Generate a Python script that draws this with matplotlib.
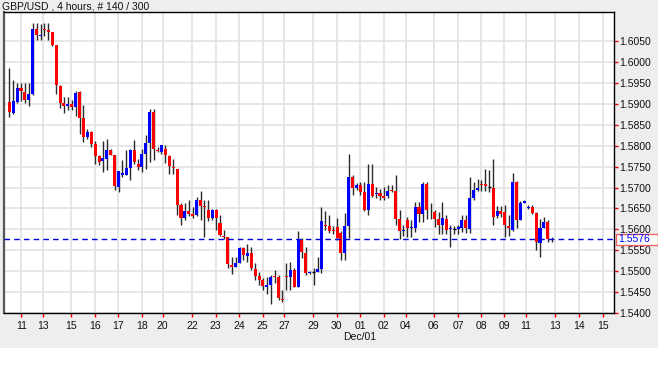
import matplotlib
matplotlib.use("Agg")
import matplotlib.pyplot as plt
from matplotlib.patches import Rectangle
import matplotlib.transforms as mtransforms
import numpy as np

plt.rcParams['font.family'] = ['Liberation Sans', 'DejaVu Sans']

title = "GBP/USD , 4 hours, # 140 / 300"

opens = [1.5905, 1.5879, 1.5905, 1.5938, 1.5929, 1.5909, 1.5923, 1.6080, 1.6062, 1.6080,
         1.6077, 1.6071, 1.6040, 1.5943, 1.5902, 1.5895, 1.5899, 1.5893, 1.5929, 1.5867,
         1.5821, 1.5833, 1.5804, 1.5775, 1.5764, 1.5769, 1.5791, 1.5777, 1.5702, 1.5731,
         1.5731, 1.5747, 1.5791, 1.5757, 1.5749, 1.5780, 1.5807, 1.5881, 1.5791, 1.5784,
         1.5792, 1.5775, 1.5749, 1.5745, 1.5659, 1.5627, 1.5644, 1.5637, 1.5635, 1.5670,
         1.5657, 1.5647, 1.5627, 1.5647, 1.5615, 1.5584, 1.5581, 1.5515, 1.5509, 1.5519,
         1.5555, 1.5537, 1.5543, 1.5505, 1.5489, 1.5478, 1.5463, 1.5467, 1.5489, 1.5487,
         1.5434, 1.5489, 1.5487, 1.5503, 1.5463, 1.5575, 1.5543, 1.5495, 1.5497, 1.5499,
         1.5505, 1.5611, 1.5608, 1.5599, 1.5605, 1.5592, 1.5543, 1.5608, 1.5726, 1.5698,
         1.5706, 1.5689, 1.5646, 1.5709, 1.5684, 1.5687, 1.5681, 1.5679, 1.5695, 1.5691,
         1.5626, 1.5596, 1.5622, 1.5604, 1.5604, 1.5654, 1.5636, 1.5709, 1.5643, 1.5642,
         1.5626, 1.5610, 1.5626, 1.5600, 1.5602, 1.5602, 1.5604, 1.5622, 1.5602, 1.5674,
         1.5695, 1.5709, 1.5709, 1.5701, 1.5699, 1.5631, 1.5643, 1.5642, 1.5607, 1.5598,
         1.5713, 1.5622, 1.5663, 1.5650, 1.5654, 1.5639, 1.5568, 1.5604, 1.5618, 1.5578]

highs = [1.5987, 1.5957, 1.5949, 1.5949, 1.5949, 1.5949, 1.6094, 1.6094, 1.6092, 1.6094,
         1.6094, 1.6072, 1.6040, 1.5945, 1.5917, 1.5917, 1.5910, 1.5930, 1.5932, 1.5898,
         1.5841, 1.5835, 1.5811, 1.5777, 1.5811, 1.5817, 1.5793, 1.5778, 1.5739, 1.5765,
         1.5789, 1.5793, 1.5813, 1.5769, 1.5793, 1.5825, 1.5889, 1.5889, 1.5797, 1.5801,
         1.5801, 1.5777, 1.5769, 1.5745, 1.5662, 1.5662, 1.5670, 1.5654, 1.5678, 1.5692,
         1.5670, 1.5670, 1.5649, 1.5649, 1.5635, 1.5599, 1.5582, 1.5535, 1.5535, 1.5559,
         1.5559, 1.5564, 1.5559, 1.5519, 1.5499, 1.5483, 1.5487, 1.5491, 1.5503, 1.5491,
         1.5454, 1.5520, 1.5523, 1.5507, 1.5595, 1.5579, 1.5559, 1.5501, 1.5507, 1.5533,
         1.5654, 1.5643, 1.5635, 1.5607, 1.5627, 1.5595, 1.5640, 1.5780, 1.5730, 1.5710,
         1.5714, 1.5713, 1.5757, 1.5757, 1.5701, 1.5697, 1.5701, 1.5705, 1.5705, 1.5729,
         1.5646, 1.5610, 1.5630, 1.5622, 1.5666, 1.5666, 1.5713, 1.5713, 1.5662, 1.5646,
         1.5642, 1.5666, 1.5634, 1.5610, 1.5607, 1.5610, 1.5634, 1.5634, 1.5725, 1.5713,
         1.5721, 1.5717, 1.5745, 1.5743, 1.5769, 1.5655, 1.5655, 1.5658, 1.5634, 1.5736,
         1.5716, 1.5667, 1.5670, 1.5658, 1.5658, 1.5642, 1.5626, 1.5630, 1.5623, 1.5582]

lows = [1.5869, 1.5877, 1.5903, 1.5906, 1.5903, 1.5895, 1.5921, 1.6052, 1.6052, 1.6063,
        1.6054, 1.6039, 1.5923, 1.5891, 1.5879, 1.5885, 1.5885, 1.5871, 1.5827, 1.5809,
        1.5817, 1.5797, 1.5756, 1.5753, 1.5737, 1.5741, 1.5777, 1.5694, 1.5690, 1.5725,
        1.5729, 1.5717, 1.5757, 1.5741, 1.5737, 1.5745, 1.5761, 1.5765, 1.5784, 1.5781,
        1.5759, 1.5733, 1.5733, 1.5634, 1.5611, 1.5623, 1.5631, 1.5627, 1.5632, 1.5623,
        1.5581, 1.5619, 1.5623, 1.5599, 1.5583, 1.5576, 1.5507, 1.5494, 1.5509, 1.5519,
        1.5527, 1.5523, 1.5503, 1.5479, 1.5467, 1.5455, 1.5445, 1.5422, 1.5471, 1.5430,
        1.5427, 1.5455, 1.5455, 1.5461, 1.5463, 1.5531, 1.5491, 1.5494, 1.5467, 1.5499,
        1.5495, 1.5599, 1.5592, 1.5590, 1.5575, 1.5527, 1.5527, 1.5579, 1.5682, 1.5694,
        1.5682, 1.5643, 1.5634, 1.5678, 1.5676, 1.5671, 1.5671, 1.5674, 1.5689, 1.5610,
        1.5576, 1.5583, 1.5582, 1.5582, 1.5594, 1.5618, 1.5618, 1.5626, 1.5626, 1.5606,
        1.5590, 1.5590, 1.5588, 1.5558, 1.5590, 1.5590, 1.5594, 1.5592, 1.5591, 1.5671,
        1.5692, 1.5693, 1.5693, 1.5689, 1.5610, 1.5628, 1.5630, 1.5582, 1.5583, 1.5596,
        1.5604, 1.5622, 1.5662, 1.5648, 1.5636, 1.5550, 1.5534, 1.5604, 1.5570, 1.5570]

closes = [1.5881, 1.5906, 1.5938, 1.5930, 1.5909, 1.5923, 1.6080, 1.6064, 1.6066, 1.6076,
          1.6072, 1.6040, 1.5945, 1.5903, 1.5895, 1.5899, 1.5893, 1.5927, 1.5867, 1.5821,
          1.5833, 1.5804, 1.5776, 1.5761, 1.5771, 1.5791, 1.5777, 1.5704, 1.5739, 1.5736,
          1.5747, 1.5791, 1.5761, 1.5749, 1.5780, 1.5807, 1.5881, 1.5792, 1.5787, 1.5801,
          1.5777, 1.5752, 1.5747, 1.5658, 1.5627, 1.5644, 1.5637, 1.5631, 1.5670, 1.5657,
          1.5653, 1.5627, 1.5647, 1.5627, 1.5587, 1.5581, 1.5517, 1.5509, 1.5519, 1.5555,
          1.5539, 1.5543, 1.5507, 1.5489, 1.5478, 1.5465, 1.5467, 1.5487, 1.5485, 1.5435,
          1.5430, 1.5485, 1.5503, 1.5463, 1.5575, 1.5547, 1.5495, 1.5499, 1.5497, 1.5505,
          1.5619, 1.5607, 1.5597, 1.5595, 1.5579, 1.5543, 1.5608, 1.5726, 1.5698, 1.5706,
          1.5690, 1.5647, 1.5709, 1.5681, 1.5687, 1.5681, 1.5676, 1.5693, 1.5691, 1.5626,
          1.5596, 1.5597, 1.5604, 1.5605, 1.5654, 1.5636, 1.5709, 1.5646, 1.5644, 1.5626,
          1.5610, 1.5628, 1.5598, 1.5603, 1.5602, 1.5606, 1.5622, 1.5604, 1.5674, 1.5695,
          1.5699, 1.5705, 1.5703, 1.5701, 1.5630, 1.5643, 1.5638, 1.5610, 1.5604, 1.5713,
          1.5622, 1.5663, 1.5667, 1.5654, 1.5639, 1.5570, 1.5604, 1.5618, 1.5578, 1.5576]

last_price = 1.5576

# x tick positions (in bar-index units) and their day labels
xtick_pos = [3.1, 8.6, 15.8, 22.0, 27.9, 33.9, 39.3, 46.9, 52.9, 58.9, 64.9, 70.5,
             77.9, 83.9, 89.9, 96.0, 101.6, 108.8, 115.0, 120.9, 126.9, 132.3,
             139.8, 146.0, 152.1]
xtick_labels = ['11', '13', '15', '16', '17', '18', '20', '22', '23', '24', '25', '27',
                '29', '30', '01', '02', '04', '06', '07', '08', '09', '11',
                '13', '14', '15']
month_label = 'Dec/01'
month_tick = 14

yticks = [1.5400, 1.5450, 1.5500, 1.5550, 1.5600, 1.5650, 1.5700, 1.5750,
          1.5800, 1.5850, 1.5900, 1.5950, 1.6000, 1.6050]

W, H = 658, 366
fig = plt.figure(figsize=(W / 100, H / 100), dpi=100)
fig.patch.set_facecolor('#EEEEEE')
fig.patches.append(Rectangle((0, 0), 1, 18 / H, transform=fig.transFigure,
                             facecolor='white', edgecolor='none', zorder=0))

L, R, T, B = 4, 614, 12, 313
ax = fig.add_axes([L / W, (H - B) / H, (R - L) / W, (B - T) / H])
ax.set_facecolor('white')

o = np.array(opens); h = np.array(highs); l = np.array(lows); c = np.array(closes)
x = np.arange(len(o))

ax.vlines(x, l, h, color='#2a2a2a', lw=1.0, zorder=3)
up = c > o
dn = c < o
eq = c == o
body_w = 0.78
minh = 0.00014
ax.bar(x[up], np.maximum(c[up] - o[up], minh), bottom=o[up], width=body_w,
       color='#0000FF', lw=0, zorder=4)
ax.bar(x[dn], np.maximum(o[dn] - c[dn], minh), bottom=c[dn], width=body_w,
       color='#FF0000', lw=0, zorder=4)
ax.hlines(o[eq], x[eq] - body_w / 2, x[eq] + body_w / 2, color='black', lw=1.0, zorder=4)

ax.axhline(last_price, color='#0000DD', lw=1.0, ls=(0, (4, 3)), zorder=5)

ax.set_xlim(-1.36, 154.97)
ax.set_ylim(1.5400, 1.6120)

ax.set_yticks(yticks)
ax.set_yticklabels([f'{v:.4f}' for v in yticks])
ax.yaxis.tick_right()
ax.set_xticks(xtick_pos)
ax.set_xticklabels(xtick_labels)
ax.tick_params(axis='y', colors='red', length=3, width=1, pad=1, labelsize=7.5,
               labelcolor='#111111')
ax.tick_params(axis='x', colors='red', length=3, width=1, pad=3, labelsize=7.5,
               labelcolor='#111111')

ax.grid(True, color='#E2E2E2', lw=1.2, zorder=0)
ax.set_axisbelow(True)
for s in ['top', 'right', 'bottom']:
    ax.spines[s].set_color('black')
    ax.spines[s].set_linewidth(1.0)
ax.spines['left'].set_color('#555555')
ax.spines['left'].set_linewidth(1.6)

trans = mtransforms.blended_transform_factory(ax.transData, ax.transAxes)
ax.text(xtick_pos[month_tick], (B - 337) / (B - T), month_label, transform=trans,
        ha='center', va='center', fontsize=7.5, color='#111111')

fig.text(2 / W, 1 - 6.5 / H, title, ha='left', va='center', fontsize=7.5, color='#111111')

# last price box
ytr = mtransforms.blended_transform_factory(ax.transAxes, ax.transData)
bx0 = (616 - L) / (R - L)
bx1 = (657.5 - L) / (R - L)
bh = 0.00135
ax.add_patch(Rectangle((bx0, last_price - bh), bx1 - bx0, 2 * bh, transform=ytr,
                       facecolor='white', edgecolor='#EE6666', lw=1.0, clip_on=False, zorder=6))
ax.text(bx0 + 2.5 / (R - L), last_price, f'{last_price:.4f}', transform=ytr,
        ha='left', va='center', fontsize=7.5, color='#0000FF', zorder=7, clip_on=False)

fig.savefig('out.png', dpi=100, facecolor=fig.get_facecolor())
